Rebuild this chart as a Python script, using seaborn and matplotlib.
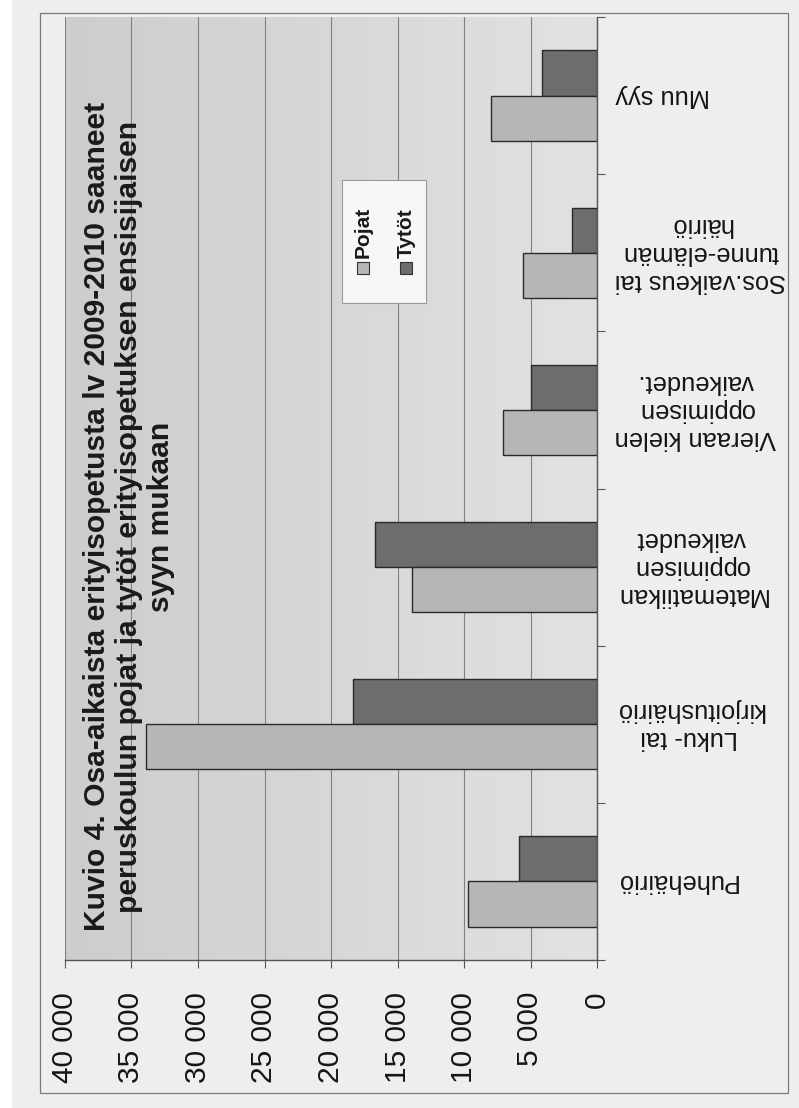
import numpy as np
import pandas as pd
import matplotlib
matplotlib.use("Agg")
import matplotlib.pyplot as plt
import seaborn as sns
from matplotlib.patches import Rectangle
from matplotlib.colors import LinearSegmentedColormap

# Primary reason for part-time special education, 2009-2010
categories = [
    "Puhehäiriö",
    "Luku- tai\nkirjoitushäiriö",
    "Matematiikan\noppimisen\nvaikeudet",
    "Vieraan kielen\noppimisen\nvaikeudet.",
    "Sos.vaikeus tai\ntunne-elämän\nhäiriö",
    "Muu syy",
]
pojat = [9700, 33900, 13900, 7100, 5600, 8000]
tytot = [5900, 18350, 16700, 5000, 1900, 4100]
series = ["Pojat", "Tytöt"]
value_ticks = list(range(0, 40001, 5000))
title = ("Kuvio 4. Osa-aikaista erityisopetusta lv 2009-2010 saaneet\n"
         "peruskoulun pojat ja tytöt erityisopetuksen ensisijaisen\n"
         "syyn mukaan")

colors = {"Pojat": "#b6b6b6", "Tytöt": "#6d6d6d"}

sns.set_theme(style="white")
plt.rcParams["font.family"] = ["Liberation Sans", "DejaVu Sans"]

W, H = 799, 1108
fig = plt.figure(figsize=(W / 100, H / 100), dpi=100, facecolor="#eeeeee")


def fx(x):
    return x / W


def fy(y):
    return 1 - y / H


def box(x0, y0, x1, y1):
    return [fx(x0), fy(y1), (x1 - x0) / W, (y1 - y0) / H]


# page edge and frame
fig.patches.append(Rectangle((0, 0), fx(12), 1, transform=fig.transFigure,
                             facecolor="white", edgecolor="none", zorder=-5))
fig.patches.append(Rectangle((fx(40), fy(1093)), (788 - 40) / W, (1093 - 13) / H,
                             transform=fig.transFigure, fill=False,
                             edgecolor="#7a7a7a", linewidth=0.9, zorder=-4))

# shaded plot background
plot_box = box(65, 17, 597, 960)
bg = fig.add_axes(plot_box, zorder=0)
bg.imshow(np.linspace(0, 1, 256)[None, :], aspect="auto",
          cmap=LinearSegmentedColormap.from_list("bg", ["#cdcdcd", "#e2e2e2"]),
          extent=[0, 1, 0, 1])
bg.axis("off")

ax = fig.add_axes(plot_box, zorder=1)
ax.set_facecolor("none")

df = pd.DataFrame({
    "syy": categories * 2,
    "ryhmä": [series[0]] * len(categories) + [series[1]] * len(categories),
    "määrä": pojat + tytot,
})

sns.barplot(data=df, x="määrä", y="syy", hue="ryhmä",
            order=categories[::-1], hue_order=series[::-1],
            palette=colors, orient="h", width=0.575, saturation=1,
            edgecolor="#2a2a2a", linewidth=1.0, legend=False, ax=ax, zorder=3)

ax.set_xlim(40000, 0)
ax.set_ylim(len(categories) - 0.5, -0.5)
ax.set_xlabel("")
ax.set_ylabel("")

ax.xaxis.grid(True, color="#808080", linewidth=0.8)
ax.yaxis.grid(False)
ax.set_axisbelow(True)

ax.set_xticks(value_ticks)
ax.set_xticklabels([f"{v:,}".replace(",", " ") for v in value_ticks],
                   rotation=90, fontsize=21.5, color="#151515")
ax.tick_params(axis="x", which="major", bottom=True, direction="out",
               length=6, width=0.8, color="#555555", pad=17)

ax.yaxis.tick_right()
ax.set_yticks(range(len(categories)))
ax.set_yticklabels(categories[::-1], rotation=180, fontsize=18.3,
                   color="#151515", multialignment="center")
for lab in ax.get_yticklabels():
    lab.set_va("center")
ax.tick_params(axis="y", which="major", length=0, pad=13, right=True, left=False)
ax.set_yticks(np.arange(-0.5, len(categories)), minor=True)
ax.tick_params(axis="y", which="minor", direction="out", length=6, width=0.8,
               color="#555555", right=True, left=False)

for side in ("top", "left"):
    ax.spines[side].set_visible(False)
for side in ("right", "bottom"):
    ax.spines[side].set_color("#555555")
    ax.spines[side].set_linewidth(1.0)

ax.text(0.12, 0.47, title, transform=ax.transAxes, rotation=90,
        ha="center", va="center", multialignment="center",
        fontsize=21.6, fontweight="bold", linespacing=1.18,
        color="#1a1a1a", zorder=5)

# legend box
fig.patches.append(Rectangle((fx(342), fy(303)), (426 - 342) / W, (303 - 180) / H,
                             transform=fig.transFigure, facecolor="#f7f7f7",
                             edgecolor="#9a9a9a", linewidth=0.8, zorder=6))
for name, xc in zip(series, (363, 406)):
    fig.patches.append(Rectangle((fx(xc - 6), fy(274)), 12 / W, 12 / H,
                                 transform=fig.transFigure, facecolor=colors[name],
                                 edgecolor="#333333", linewidth=0.8, zorder=7))
    fig.text(fx(xc), fy(258), name, rotation=90, ha="center", va="bottom",
             fontsize=15, fontweight="bold", color="#1a1a1a", zorder=7)

fig.savefig("out.png", dpi=100, facecolor=fig.get_facecolor())
